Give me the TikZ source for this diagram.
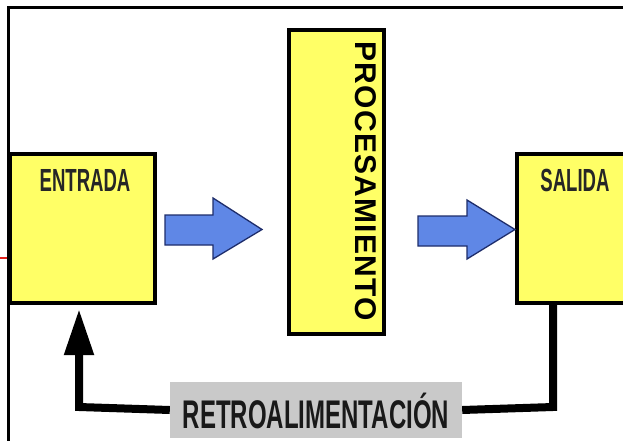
\documentclass[tikz,border=0pt]{standalone}
\usepackage{fontspec}
\setmainfont{Liberation Sans}
\newfontfamily\narrowfont[FakeStretch=0.58]{Liberation Sans}
\newfontfamily\retrofont[FakeStretch=0.6]{Liberation Sans}
\newfontfamily\procfont[LetterSpace=4]{Liberation Sans}
\usetikzlibrary{arrows.meta}
\definecolor{boxyellow}{HTML}{FFFF66}
\definecolor{arrowblue}{HTML}{5F87E6}
\definecolor{arrowedge}{HTML}{1E2D6B}
\definecolor{lblgray}{HTML}{C9C9C9}
\definecolor{redline}{HTML}{E0201A}
\tikzset{
  ybox/.style={draw=black, line width=4pt, fill=boxyellow, inner sep=0pt},
  boxtext/.style={font=\narrowfont\bfseries\fontsize{32}{32}\selectfont, inner sep=0pt, text=black!85},
  bluearrow/.style={fill=arrowblue, draw=arrowedge, line width=1.3pt, line join=miter},
  fb/.style={line width=8pt, draw=black},
}
\begin{document}
\begin{tikzpicture}[x=1pt,y=-1pt]
\useasboundingbox (0,0) rectangle (623,441);
\fill[white] (0,0) rectangle (623,441);
% frame
\draw[line width=3pt] (8,441) -- (8,8) -- (623,8);
\draw[redline, line width=2.5pt] (0,258) -- (7,258);
% boxes
\node[ybox, minimum width=145pt, minimum height=149pt] (ent) at (82.5,228.5) {};
\node[ybox, minimum width=95pt, minimum height=304pt] (proc) at (336.5,182) {};
\node[ybox, minimum width=145pt, minimum height=149pt] (sal) at (589.5,228.5) {};
\node[boxtext] (entt) at (85,180) {ENTRADA};
\node[boxtext] (salt) at (575,180) {SALIDA};
\node[font=\procfont\bfseries\fontsize{30}{30}\selectfont, rotate=-90, inner sep=0pt] (proct) at (366,181) {PROCESAMIENTO};
% blue arrows
\draw[bluearrow] (165,215) -- (213,215) -- (213,198) -- (262,229.5) -- (213,259) -- (213,245) -- (165,245) -- cycle;
\draw[bluearrow] (418,216) -- (467,216) -- (467,200) -- (515,229.5) -- (467,259) -- (467,246) -- (418,246) -- cycle;
% feedback
\node[fill=lblgray, minimum width=292pt, minimum height=56pt, inner sep=0pt] (lbl) at (316,410) {};
\node[font=\retrofont\bfseries\fontsize{40}{40}\selectfont, inner sep=0pt, text=black!90] (lblt) at (316,411) {RETROALIMENTACIÓN};
\coordinate (fbR) at (553,407);
\coordinate (fbL) at (79,407);
\coordinate (fbTip) at (79,309);
\draw[fb] ([xshift=-36.5pt]sal.south) -- (fbR) -- (lbl.east);
\draw[fb, -{Triangle[width=28pt,length=46pt]}] (lbl.west) -- (fbL) -- (fbTip);
\end{tikzpicture}
\end{document}
